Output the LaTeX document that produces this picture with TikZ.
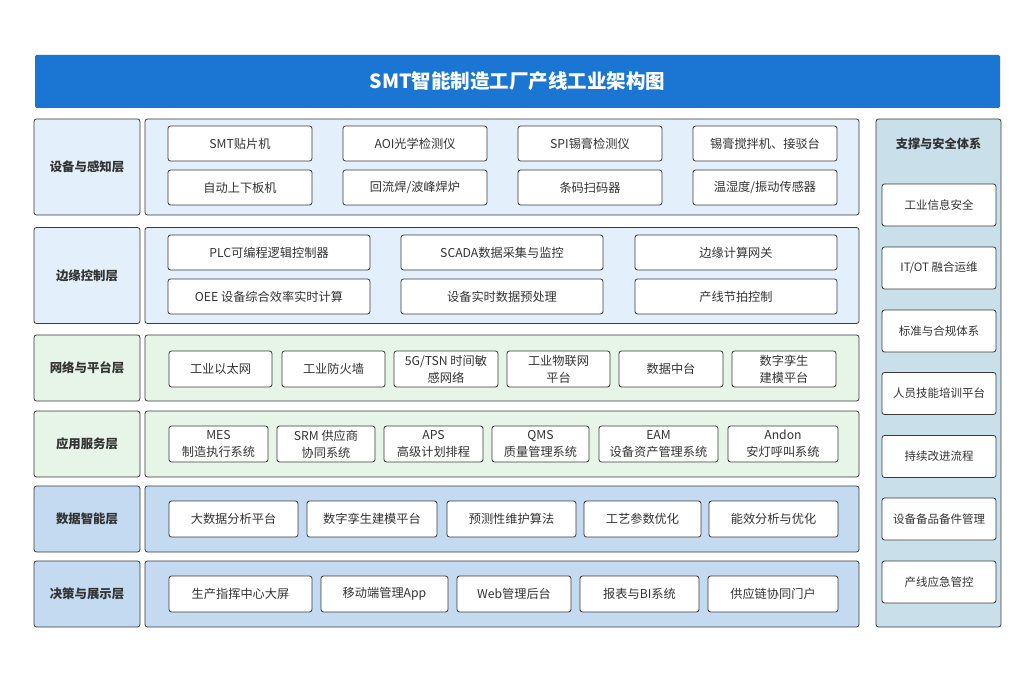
\documentclass[tikz,border=0pt]{standalone}
\usepackage{fontspec}
\setmainfont{Noto Sans CJK SC}
\usetikzlibrary{positioning}
\definecolor{titleblue}{HTML}{1A76D2}
\definecolor{lblue}{HTML}{E3F0FB}
\definecolor{lgreen}{HTML}{E7F4E8}
\definecolor{mblue}{HTML}{C3DAF0}
\definecolor{pblue}{HTML}{C9DFEA}
\definecolor{edge}{HTML}{3A3A3A}
\definecolor{txt}{HTML}{333333}
\tikzset{
  x=1pt, y=-1pt,
  panel/.style={draw=edge, line width=0.8pt, rounded corners=2.5pt, inner sep=0pt},
  layerlbl/.style={panel, font=\fontsize{12.4pt}{15pt}\selectfont\bfseries, text=txt, minimum width=106pt},
  item/.style={draw=edge, line width=0.8pt, fill=white, rounded corners=2.5pt, inner sep=0pt,
    font=\fontsize{12.2pt}{17pt}\selectfont, text=txt, align=center},
  sitem/.style={item, font=\fontsize{11.5pt}{15pt}\selectfont, minimum width=114pt, minimum height=42pt},
}
\newcommand{\itm}[5]{\node[item, minimum width=#3pt, minimum height=#4pt] (#1) at (#2) {#5};}
\begin{document}
\begin{tikzpicture}
\useasboundingbox[fill=white] (0,0) rectangle (1028,690);
% title
\node[fill=titleblue, rounded corners=1.5pt, minimum width=965pt, minimum height=53pt, inner sep=0pt,
  text=white, font=\fontsize{19.5pt}{24pt}\selectfont\bfseries] (title) at (517.5,81.5) {SMT智能制造工厂产线工业架构图};

% layer 1
\node[layerlbl, fill=lblue, minimum height=96pt] (l1) at (87,167) {设备与感知层};
\node[panel, fill=lblue, minimum width=714pt, minimum height=96pt] (c1) at (502,167) {};
\itm{a1}{240,143.5}{144}{35}{SMT贴片机}
\itm{a2}{415,143.5}{144}{35}{AOI光学检测仪}
\itm{a3}{590,143.5}{144}{35}{SPI锡膏检测仪}
\itm{a4}{765,143.5}{144}{35}{锡膏搅拌机、接驳台}
\itm{a5}{240,187.5}{144}{35}{自动上下板机}
\itm{a6}{415,187.5}{144}{35}{回流焊/波峰焊炉}
\itm{a7}{590,187.5}{144}{35}{条码扫码器}
\itm{a8}{765,187.5}{144}{35}{温湿度/振动传感器}

% layer 2
\node[layerlbl, fill=lblue, minimum height=96pt] (l2) at (87,275.5) {边缘控制层};
\node[panel, fill=lblue, minimum width=714pt, minimum height=96pt] (c2) at (502,275.5) {};
\itm{b1}{269,252.5}{202}{35}{PLC可编程逻辑控制器}
\itm{b2}{502,252.5}{202}{35}{SCADA数据采集与监控}
\itm{b3}{736,252.5}{202}{35}{边缘计算网关}
\itm{b4}{269,296.5}{202}{35}{OEE 设备综合效率实时计算}
\itm{b5}{502,296.5}{202}{35}{设备实时数据预处理}
\itm{b6}{736,296.5}{202}{35}{产线节拍控制}

% layer 3
\node[layerlbl, fill=lgreen, minimum height=66pt] (l3) at (87,368) {网络与平台层};
\node[panel, fill=lgreen, minimum width=714pt, minimum height=66pt] (c3) at (502,368) {};
\itm{n1}{220.5,369}{103}{36}{工业以太网}
\itm{n2}{333.5,369}{103}{36}{工业防火墙}
\itm{n3}{446,369}{104}{36}{5G/TSN 时间敏\\感网络}
\itm{n4}{558.5,369}{103}{36}{工业物联网\\平台}
\itm{n5}{671,369}{104}{36}{数据中台}
\itm{n6}{784,369}{104}{36}{数字孪生\\建模平台}

% layer 4
\node[layerlbl, fill=lgreen, minimum height=66pt] (l4) at (87,444) {应用服务层};
\node[panel, fill=lgreen, minimum width=714pt, minimum height=66pt] (c4) at (502,444) {};
\itm{s1}{218.5,444}{99}{36}{MES\\制造执行系统}
\itm{s2}{326,444}{98}{36}{SRM 供应商\\协同系统}
\itm{s3}{433.5,444}{99}{36}{APS\\高级计划排程}
\itm{s4}{540.5,444}{97}{36}{QMS\\质量管理系统}
\itm{s5}{658.5,444}{119}{36}{EAM\\设备资产管理系统}
\itm{s6}{783,444}{110}{36}{Andon\\安灯呼叫系统}

% layer 5
\node[layerlbl, fill=mblue, minimum height=66pt] (l5) at (87,519) {数据智能层};
\node[panel, fill=mblue, minimum width=714pt, minimum height=66pt] (c5) at (502,519) {};
\itm{d1}{233.5,519}{129}{36}{大数据分析平台}
\itm{d2}{372,519}{130}{36}{数字孪生建模平台}
\itm{d3}{511.5,519}{129}{36}{预测性维护算法}
\itm{d4}{642.5,519}{117}{36}{工艺参数优化}
\itm{d5}{773.5,519}{129}{36}{能效分析与优化}

% layer 6
\node[layerlbl, fill=mblue, minimum height=66pt] (l6) at (87,594) {决策与展示层};
\node[panel, fill=mblue, minimum width=714pt, minimum height=66pt] (c6) at (502,594) {};
\itm{e1}{240.5,594}{143}{36}{生产指挥中心大屏}
\itm{e2}{384.5,594}{127}{36}{移动端管理App}
\itm{e3}{514,594}{114}{36}{Web管理后台}
\itm{e4}{639.5,594}{119}{36}{报表与BI系统}
\itm{e5}{773,594}{130}{36}{供应链协同门户}

% right support panel
\node[panel, fill=pblue, minimum width=125pt, minimum height=508pt] (sp) at (938.5,373) {};
\node[font=\fontsize{12.2pt}{15pt}\selectfont\bfseries, text=txt, inner sep=0pt] (spt) at (938.5,144) {支撑与安全体系};
\node[sitem] (p1) at (939,205) {工业信息安全};
\node[sitem] (p2) at (939,268) {IT/OT 融合运维};
\node[sitem] (p3) at (939,331) {标准与合规体系};
\node[sitem] (p4) at (939,393.5) {人员技能培训平台};
\node[sitem] (p5) at (939,456.5) {持续改进流程};
\node[sitem] (p6) at (939,519) {设备备品备件管理};
\node[sitem] (p7) at (939,582) {产线应急管控};
\end{tikzpicture}
\end{document}
